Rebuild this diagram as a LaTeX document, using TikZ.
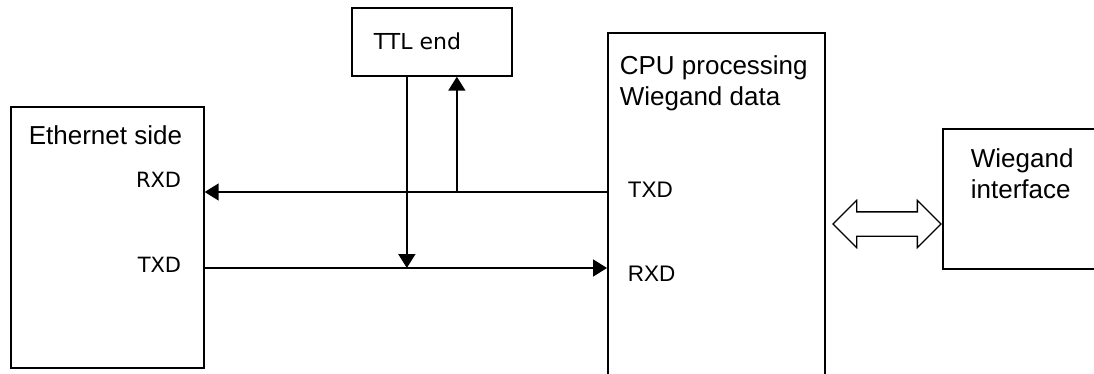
\documentclass[tikz,border=0pt]{standalone}
\usepackage{fontspec}
\setmainfont{Liberation Sans}
\newfontfamily\pinfont{DejaVu Sans}
\usetikzlibrary{positioning, arrows.meta, shapes.arrows}

\begin{document}
\begin{tikzpicture}[x=1pt, y=-1pt, line width=1.7pt,
  box/.style={draw=black, rectangle, inner sep=0pt, anchor=north west},
  lbl/.style={inner sep=0pt, align=left, font=\fontsize{26}{30.5}\selectfont},
  pin/.style={inner sep=0pt, font=\pinfont\fontsize{21}{24}\selectfont},
  arr/.style={-{Triangle[length=14pt, width=17pt]}, black}
]
  \clip (0,0) rectangle (1094,374);
  % blocks
  \node[box, minimum width=193pt, minimum height=261pt] (eth) at (10,106) {};
  \node[box, minimum width=160pt, minimum height=68pt] (ttl) at (351,7) {};
  \node[box, minimum width=217pt, minimum height=400pt] (cpu) at (607,32) {};
  \node[box, minimum width=200pt, minimum height=140pt] (wieg) at (942,128) {};
  % texts
  \node[lbl, anchor=base west] (ethtxt) at (28,145) {Ethernet side};
  \node[pin, anchor=base east] (ethrx) at (182,188) {RXD};
  \node[pin, anchor=base east] (ethtx) at (182,272) {TXD};
  \node[pin, anchor=base west, font=\pinfont\fontsize{22}{26}\selectfont] (ttltxt) at (373,50) {TTL end};
  \node[lbl, anchor=north west] (cputxt) at (619,55) {CPU processing\\Wiegand data};
  \node[lbl, anchor=base west, font=\fontsize{22.5}{26}\selectfont] (cputx) at (627,197) {TXD};
  \node[lbl, anchor=base west, font=\fontsize{22.5}{26}\selectfont] (cpurx) at (627,281) {RXD};
  \node[lbl, anchor=north west] (wiegtxt) at (970,148) {Wiegand\\interface};
  % serial lines
  \coordinate (rx) at (0,192);
  \coordinate (tx) at (0,268);
  \draw[arr] (cpu.west |- rx) -- (eth.east |- rx);
  \draw[arr] (eth.east |- tx) -- (cpu.west |- tx);
  \draw[arr] ([xshift=-25pt]ttl.south) -- ([xshift=-25pt]ttl.south |- tx);
  \draw[arr] ([xshift=25pt]ttl.south |- rx) -- ([xshift=25pt]ttl.south);
  % link to the Wiegand interface
  \node[draw, double arrow, line width=1.3pt, double arrow tip angle=90,
        double arrow head extend=11.5pt, inner xsep=0pt, inner ysep=11.5pt,
        minimum height=108pt] (link) at (887,224) {};
\end{tikzpicture}
\end{document}
